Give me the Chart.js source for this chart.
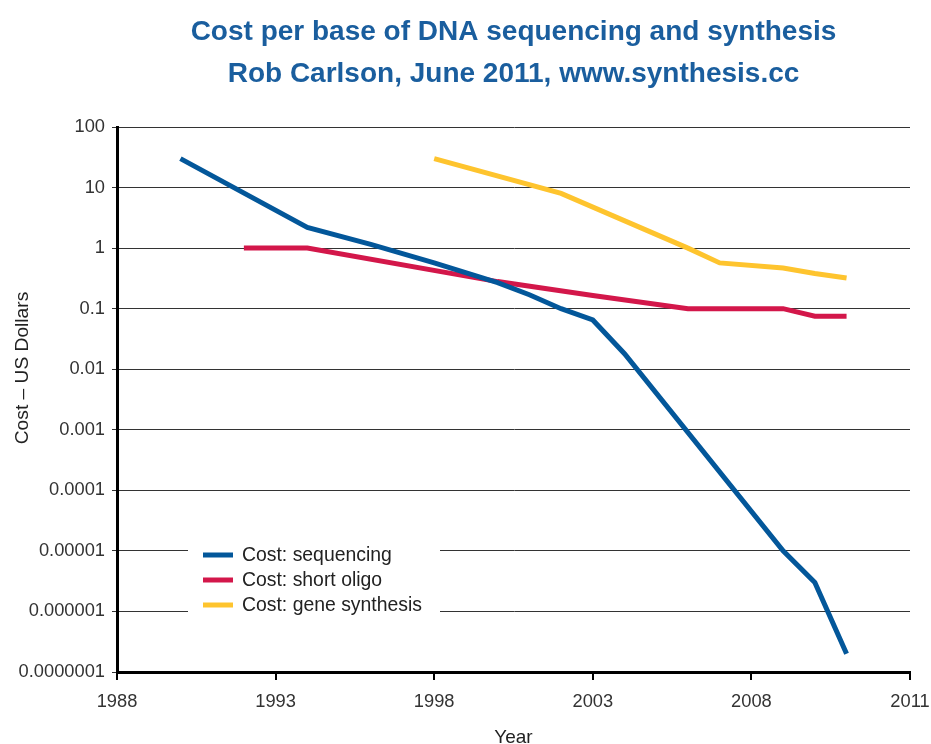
<!DOCTYPE html>
<html>
<head>
<meta charset="utf-8">
<script src="https://cdn.jsdelivr.net/npm/chart.js@4"></script>
<style>
  html, body { margin: 0; padding: 0; background: #fff; }
  #wrap { width: 931px; height: 744px; }
</style>
</head>
<body>
<div id="wrap"><canvas id="myChart" width="931" height="744"></canvas></div>
<script>
const FONT = "'Liberation Sans', Arial, Helvetica, sans-serif";

const seqYears = [1990, 1994, 1996, 1998, 2000, 2001, 2002, 2003, 2004, 2009, 2010, 2011];
const seqCost = [30, 2.2, 1.15, 0.57, 0.27, 0.17, 0.1, 0.065, 0.018, 0.00001, 0.000003, 0.0000002];

const oligoYears = [1992, 1994, 2000, 2003, 2006, 2009, 2010, 2011];
const oligoCost = [1, 1, 0.28, 0.165, 0.1, 0.1, 0.075, 0.075];

const geneYears = [1998, 2002, 2006, 2007, 2009, 2010, 2011];
const geneCost = [30, 8, 1.0, 0.57, 0.47, 0.38, 0.32];

const seriesLabels = ["Cost: sequencing", "Cost: short oligo", "Cost: gene synthesis"];
const seriesColors = ["#03579a", "#d3174a", "#fec42e"];

const xTickValues = [1988, 1993, 1998, 2003, 2008, 2013];
const xTickLabels = ["1988", "1993", "1998", "2003", "2008", "2011"];
const yTickValues = [100, 10, 1, 0.1, 0.01, 0.001, 0.0001, 0.00001, 0.000001, 0.0000001];
const yTickLabels = ["100", "10", "1", "0.1", "0.01", "0.001", "0.0001", "0.00001", "0.000001", "0.0000001"];

const toPoints = (years, values) => years.map((y, i) => ({ x: y, y: values[i] }));

// legend sits inside the plot, on a white patch over the grid lines
const insideLegend = {
  id: "insideLegend",
  afterDraw(chart) {
    const ctx = chart.ctx;
    ctx.save();
    ctx.fillStyle = "#fff";
    ctx.fillRect(188, 538, 252, 80);
    ctx.font = "19.4px " + FONT;
    ctx.textBaseline = "middle";
    chart.data.datasets.forEach((ds, i) => {
      const y = 555 + i * 25;
      ctx.strokeStyle = ds.borderColor;
      ctx.lineWidth = 5;
      ctx.beginPath();
      ctx.moveTo(203, y);
      ctx.lineTo(233, y);
      ctx.stroke();
      ctx.fillStyle = "#222";
      ctx.fillText(ds.label, 242, y + 1);
    });

    // y axis title
    ctx.translate(23, 368);
    ctx.rotate(-Math.PI / 2);
    ctx.textAlign = "center";
    ctx.font = "19.2px " + FONT;
    ctx.fillStyle = "#222";
    ctx.fillText("Cost \u2013 US Dollars", 0, 0);
    ctx.restore();
  },
};

new Chart(document.getElementById("myChart"), {
  type: "line",
  data: {
    datasets: [
      { label: seriesLabels[0], data: toPoints(seqYears, seqCost), borderColor: seriesColors[0] },
      { label: seriesLabels[1], data: toPoints(oligoYears, oligoCost), borderColor: seriesColors[1] },
      { label: seriesLabels[2], data: toPoints(geneYears, geneCost), borderColor: seriesColors[2] },
    ],
  },
  options: {
    responsive: false,
    animation: false,
    layout: { padding: { left: 0, right: 21, top: 0, bottom: 0 } },
    elements: {
      line: { borderWidth: 5, tension: 0, fill: false },
      point: { radius: 0, hoverRadius: 0 },
    },
    plugins: {
      legend: { display: false },
      tooltip: { enabled: false },
      title: {
        display: true,
        fullSize: false,
        text: ["Cost per base of DNA sequencing and synthesis", "Rob Carlson, June 2011, www.synthesis.cc"],
        color: "#1a5e9e",
        font: { family: FONT, size: 28, weight: "bold", lineHeight: 1.5 },
        padding: { top: 11, bottom: 32 },
      },
    },
    scales: {
      x: {
        type: "linear",
        min: 1988,
        max: 2013,
        afterBuildTicks: (scale) => {
          scale.ticks = xTickValues.map((v) => ({ value: v }));
        },
        afterFit: (scale) => {
          scale.height = 72;
          scale.paddingLeft = 0;
          scale.paddingRight = 0;
        },
        ticks: {
          autoSkip: false,
          maxRotation: 0,
          padding: 11,
          color: "#333",
          font: { family: FONT, size: 18.3 },
          callback: (v, i) => xTickLabels[i],
        },
        grid: { drawOnChartArea: false, drawTicks: true, tickLength: 8, color: "#000", lineWidth: 2 },
        border: { display: true, color: "#000", width: 3 },
        title: {
          display: true,
          text: "Year",
          color: "#222",
          font: { family: FONT, size: 19, lineHeight: 1 },
          padding: { top: 0, bottom: -3 },
        },
      },
      y: {
        type: "logarithmic",
        min: 0.0000001,
        max: 100,
        afterBuildTicks: (scale) => {
          scale.ticks = yTickValues.map((v) => ({ value: v }));
        },
        afterFit: (scale) => {
          scale.width = 117;
          scale.paddingTop = 0;
          scale.paddingBottom = 0;
        },
        ticks: {
          autoSkip: false,
          padding: 7,
          color: "#333",
          font: { family: FONT, size: 18.3 },
          callback: (v, i) => yTickLabels[i],
        },
        grid: { color: "#333", lineWidth: 1, drawTicks: true, tickLength: 5 },
        border: { display: true, color: "#000", width: 3 },
      },
    },
  },
  plugins: [insideLegend],
});
</script>
</body>
</html>
